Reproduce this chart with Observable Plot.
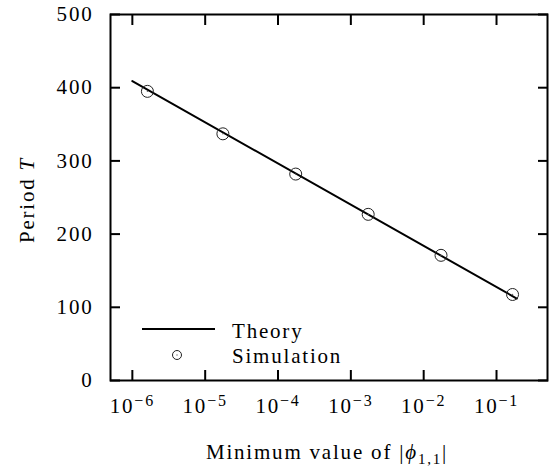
<!DOCTYPE html>
<html>
<head>
<meta charset="utf-8">
<script src="https://cdn.jsdelivr.net/npm/d3@7"></script>
<script src="https://cdn.jsdelivr.net/npm/@observablehq/plot@0.6"></script>
<style>
  html, body { margin: 0; padding: 0; background: #fff; }
  #chart svg { display: block; }
</style>
</head>
<body>
<div id="chart"></div>
<script>
// Simulation points
const simPhi = [1.61e-6, 1.75e-5, 1.75e-4, 1.73e-3, 1.73e-2, 0.166];
const simT = [395, 337, 282, 227, 171, 117.5];
// Theory line
const theoryPhi = [1e-6, 0.19];
const theoryT = [409, 112];
// Axis ticks
const xTicks = [1e-6, 1e-5, 1e-4, 1e-3, 1e-2, 1e-1];
const yTicks = [0, 100, 200, 300, 400, 500];

const sim = simPhi.map((x, i) => ({x, y: simT[i]}));
const theory = theoryPhi.map((x, i) => ({x, y: theoryT[i]}));

const font = "'Liberation Serif', 'Times New Roman', serif";

const plot = Plot.plot({
  width: 550,
  height: 466,
  marginLeft: 110,
  marginRight: 3,
  marginTop: 14,
  marginBottom: 86,
  style: {fontFamily: font, fontSize: "21px", letterSpacing: "1.8px", color: "black", background: "white"},
  x: {type: "log", domain: [Math.pow(10, -6.3), Math.pow(10, -0.3)]},
  y: {domain: [0, 500]},
  marks: [
    Plot.axisX({anchor: "bottom", ticks: xTicks, tickSize: -10, tickPadding: 28, strokeWidth: 2,
      tickFormat: d => "10^" + Math.round(Math.log10(d)), label: null}),
    Plot.axisX({anchor: "top", ticks: xTicks, tickSize: -10, strokeWidth: 2, tickFormat: () => "", label: null}),
    Plot.axisY({anchor: "left", ticks: yTicks, tickSize: -10, tickPadding: 27, strokeWidth: 2,
      tickFormat: d => String(d), label: null}),
    Plot.axisY({anchor: "right", ticks: yTicks, tickSize: -10, strokeWidth: 2, tickFormat: () => "", label: null}),
    Plot.frame({stroke: "black", strokeWidth: 2}),
    Plot.line(theory, {x: "x", y: "y", stroke: "black", strokeWidth: 2}),
    Plot.dot(sim, {x: "x", y: "y", r: 6, stroke: "#222", strokeWidth: 1, fill: "none"}),
    Plot.dot(sim, {x: "x", y: "y", r: 0.7, fill: "#666", stroke: "none"})
  ]
});

document.getElementById("chart").appendChild(plot);

const svg = d3.select(plot);

svg.selectAll("text").style("font-family", font).style("font-size", "21px").style("letter-spacing", "1.8px");

// Superscript tick labels
svg.selectAll("text").each(function() {
  const t = d3.select(this);
  const s = t.text();
  if (!s.startsWith("10^")) return;
  const exp = s.split("^")[1].replace("-", "\u2212");
  t.text(null);
  t.append("tspan").text("10");
  t.append("tspan").style("font-size", "16px").attr("dy", "-7").text(exp);
});

// Axis titles
const xl = svg.append("text")
  .attr("x", 327).attr("y", 459)
  .attr("text-anchor", "middle")
  .style("font-family", font).style("font-size", "21px").style("letter-spacing", "1.8px");
xl.append("tspan").text("Minimum value of |");
xl.append("tspan").attr("font-style", "italic").text("\u03D5");
xl.append("tspan").style("font-size", "15px").attr("dy", "5").text("1,1");
xl.append("tspan").attr("dy", "-5").text("|");

const yl = svg.append("text")
  .attr("transform", "translate(34,200) rotate(-90)")
  .attr("text-anchor", "middle")
  .style("font-family", font).style("font-size", "21px").style("letter-spacing", "1.8px");
yl.append("tspan").text("Period ");
yl.append("tspan").attr("font-style", "italic").text("T");

// Legend
const lg = svg.append("g").attr("text-anchor", "start")
  .style("font-family", font).style("font-size", "21px").style("letter-spacing", "1.8px");
lg.append("line").attr("x1", 142).attr("x2", 215).attr("y1", 329).attr("y2", 329)
  .attr("stroke", "black").attr("stroke-width", 2);
lg.append("text").attr("x", 232).attr("y", 338).text("Theory");
lg.append("circle").attr("cx", 177).attr("cy", 355).attr("r", 4.5)
  .attr("fill", "none").attr("stroke", "#222").attr("stroke-width", 1);
lg.append("circle").attr("cx", 177).attr("cy", 355).attr("r", 0.7).attr("fill", "#666");
lg.append("text").attr("x", 232).attr("y", 363).text("Simulation");
</script>
</body>
</html>
